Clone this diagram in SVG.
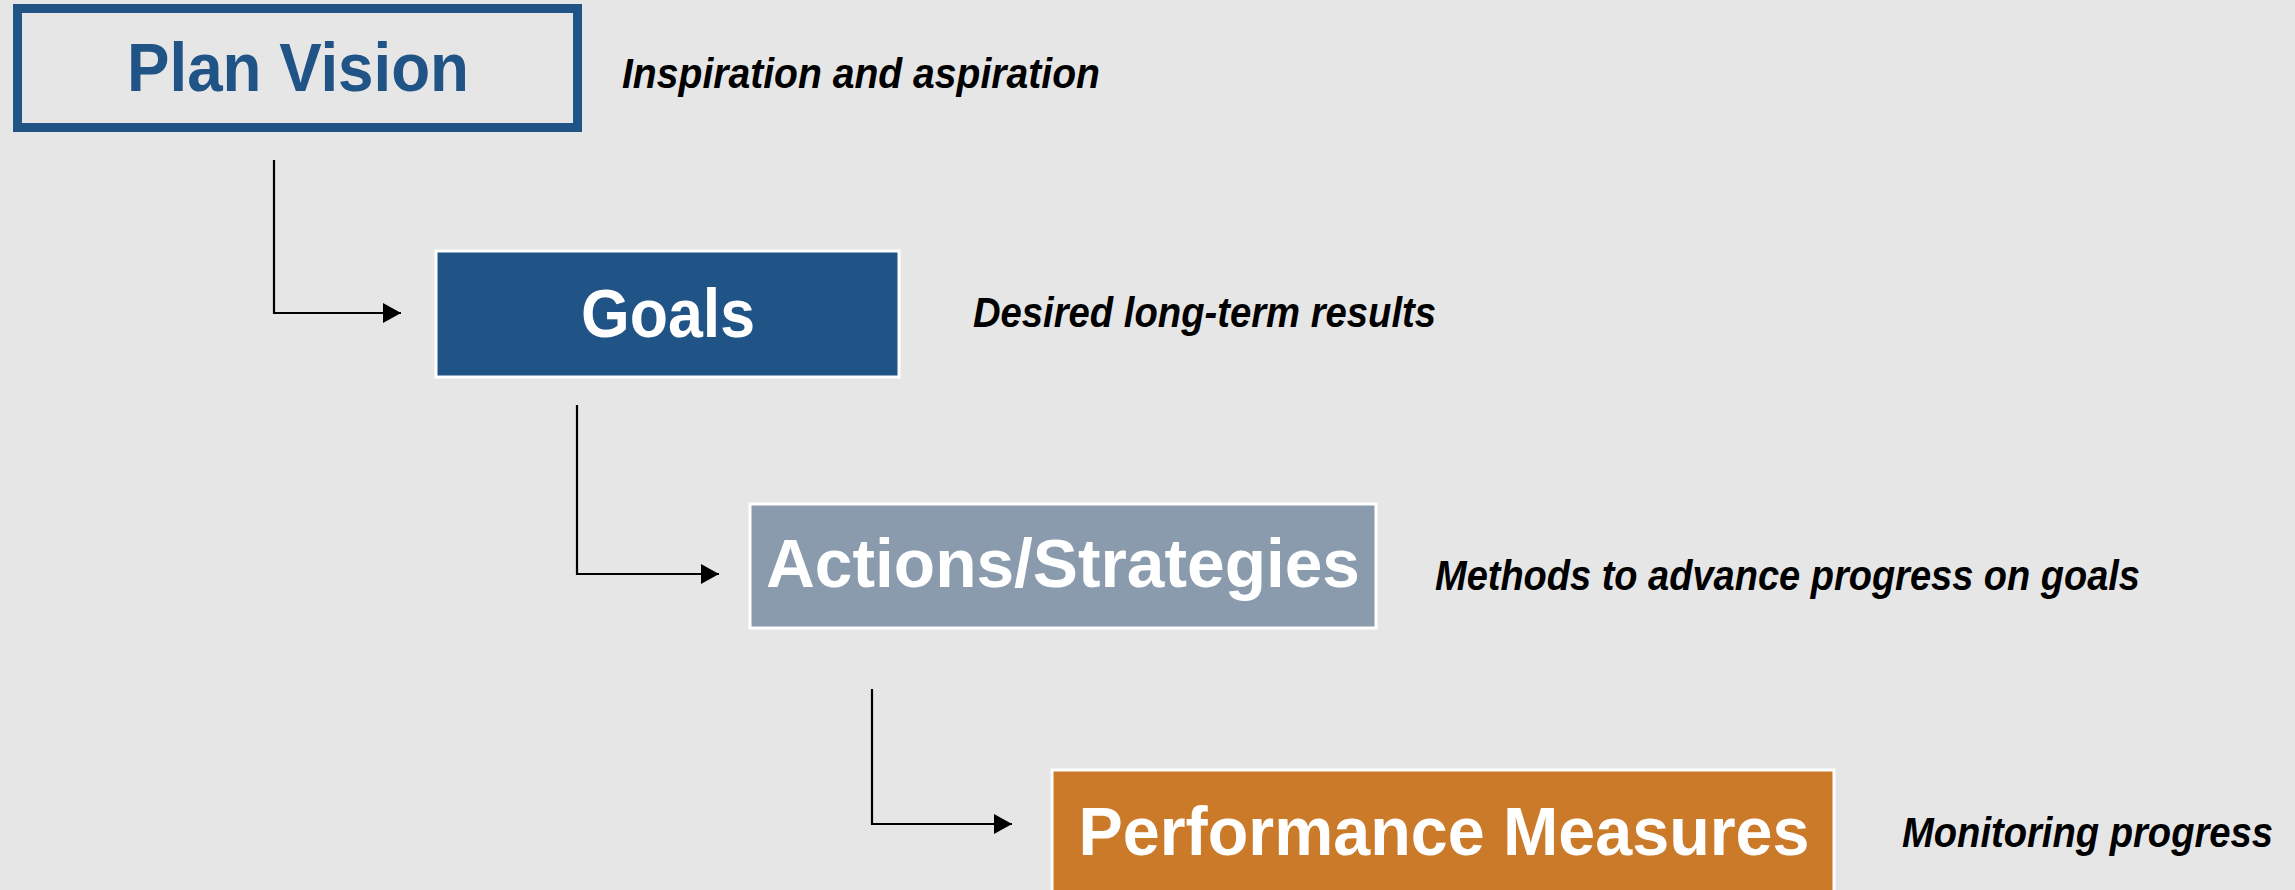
<svg xmlns="http://www.w3.org/2000/svg" width="2295" height="890" viewBox="0 0 2295 890">
  <defs>
    <marker id="arrow" markerUnits="userSpaceOnUse" markerWidth="20" markerHeight="22" refX="18" refY="10" orient="auto">
      <path d="M0,0 L18,10 L0,20 Z" fill="#000"/>
    </marker>
    <style>
      .title { font-family: "Liberation Sans", Arial, sans-serif; font-weight: bold; font-size: 68px; text-anchor: middle; }
      .white { fill: #ffffff; }
      .desc { font-family: "Liberation Sans", Arial, sans-serif; font-weight: bold; font-style: italic; font-size: 43px; fill: #000; }
      .box { stroke: #ffffff; stroke-width: 3; }
      .conn { fill: none; stroke: #000; stroke-width: 2.2; marker-end: url(#arrow); }
    </style>
  </defs>
  <rect x="0" y="0" width="2295" height="890" fill="#e6e6e6"/>

  <g id="connectors">
    <path class="conn" d="M274,160 V313 H401"/>
    <path class="conn" d="M577,405 V574 H719"/>
    <path class="conn" d="M872,689 V824 H1012" stroke="#444"/>
  </g>

  <g id="plan-vision">
    <rect x="17.5" y="8.5" width="560" height="119" fill="none" stroke="#205386" stroke-width="9"/>
    <text class="title" x="298" y="91" fill="#205386" textLength="342" lengthAdjust="spacingAndGlyphs">Plan Vision</text>
    <text class="desc" x="622" y="88" textLength="478" lengthAdjust="spacingAndGlyphs">Inspiration and aspiration</text>
  </g>

  <g id="goals">
    <rect class="box" x="436" y="251" width="463" height="126" fill="#205386"/>
    <text class="title white" x="668" y="337" textLength="174" lengthAdjust="spacingAndGlyphs">Goals</text>
    <text class="desc" x="973" y="327" textLength="463" lengthAdjust="spacingAndGlyphs">Desired long-term results</text>
  </g>

  <g id="actions">
    <rect class="box" x="750" y="504" width="626" height="124" fill="#8a9bae"/>
    <text class="title white" x="1063" y="587" textLength="594" lengthAdjust="spacingAndGlyphs">Actions/Strategies</text>
    <text class="desc" x="1435" y="590" textLength="705" lengthAdjust="spacingAndGlyphs">Methods to advance progress on goals</text>
  </g>

  <g id="performance">
    <rect class="box" x="1052" y="770" width="782" height="125" fill="#cb7a2a"/>
    <text class="title white" x="1444" y="855" textLength="731" lengthAdjust="spacingAndGlyphs">Performance Measures</text>
    <text class="desc" x="1902" y="847" textLength="371" lengthAdjust="spacingAndGlyphs">Monitoring progress</text>
  </g>
</svg>
